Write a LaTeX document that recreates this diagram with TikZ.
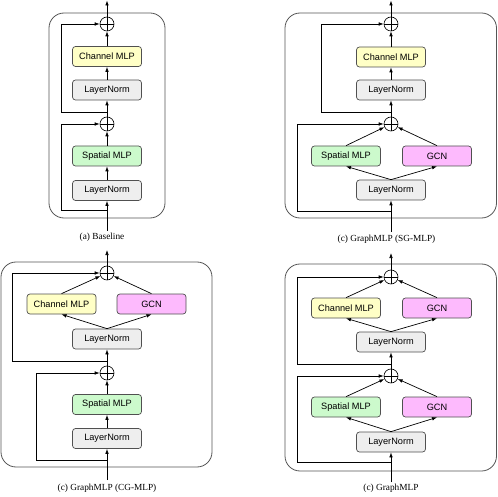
\documentclass[tikz,border=0pt]{standalone}
\usepackage{fontspec}
\setmainfont{Liberation Serif}
\setsansfont{Liberation Sans}
\usetikzlibrary{arrows.meta}
\definecolor{cmfill}{HTML}{FFFFC6}
\definecolor{smfill}{HTML}{CCFACC}
\definecolor{gcnfill}{HTML}{FDBAFD}
\definecolor{lnfill}{HTML}{EEEEEE}
\definecolor{boxline}{HTML}{505050}
\definecolor{frameline}{HTML}{555555}
\tikzset{
  blk/.style={draw=boxline, line width=0.7pt, rounded corners=3pt, minimum width=69pt, minimum height=20pt, inner sep=0pt, font=\sffamily\fontsize{9.2}{11}\selectfont},
  cmbox/.style={blk, fill=cmfill},
  smbox/.style={blk, fill=smfill},
  gcnbox/.style={blk, fill=gcnfill},
  lnbox/.style={blk, fill=lnfill},
  plusnode/.style={circle, draw=black, line width=0.6pt, minimum size=14pt, inner sep=0pt,
    path picture={\draw[line width=0.6pt] (path picture bounding box.north) -- (path picture bounding box.south) (path picture bounding box.west) -- (path picture bounding box.east);}},
  frm/.style={draw=frameline, line width=0.8pt, rounded corners=15pt},
  arr/.style={line width=0.7pt, -{Latex[length=5pt,width=3.6pt]}},
  captxt/.style={font=\fontsize{9.3}{11}\selectfont, inner sep=0pt}
}
\begin{document}
\begin{tikzpicture}[x=1pt,y=-1pt]
\useasboundingbox (0,0) rectangle (498,497);

% ---------- (a) Baseline ----------
\draw[frm] (49,13) rectangle (165,218);
\node[plusnode] (a-p1) at (107,24) {};
\node[cmbox] (a-cm) at (107,56.5) {Channel MLP};
\node[lnbox] (a-ln1) at (107,90) {LayerNorm};
\node[plusnode] (a-p2) at (107,124) {};
\node[smbox] (a-sm) at (107,156) {Spatial MLP};
\node[lnbox] (a-ln2) at (107,190.5) {LayerNorm};
\coordinate (a-top) at (107,0.5);
\coordinate (a-bot) at (107,231);
\coordinate (a-b1) at (107,112);
\coordinate (a-b2) at (107,210);
\draw[arr] (a-p1) -- (a-top);
\draw[arr] (a-cm) -- (a-p1);
\draw[arr] (a-ln1) -- (a-cm);
\draw[arr] (a-p2) -- (a-ln1);
\draw[arr] (a-sm) -- (a-p2);
\draw[arr] (a-ln2) -- (a-sm);
\draw[arr] (a-bot) -- (a-ln2);
\draw[arr] (a-b1) -- ++(-46,0) |- (a-p1);
\draw[arr] (a-b2) -- ++(-46,0) |- (a-p2);
\node[captxt] (a-cap) at (102,237) {(a) Baseline};

% ---------- (c) SG-MLP ----------
\draw[frm] (285,13) rectangle (496.5,218);
\node[plusnode] (b-p1) at (391,24) {};
\node[cmbox] (b-cm) at (391,57) {Channel MLP};
\node[lnbox] (b-ln1) at (391,90) {LayerNorm};
\node[plusnode] (b-p2) at (391,124) {};
\node[smbox] (b-sm) at (346,156) {Spatial MLP};
\node[gcnbox] (b-gcn) at (437,156) {GCN};
\node[lnbox] (b-ln2) at (391,190) {LayerNorm};
\coordinate (b-top) at (391,0.5);
\coordinate (b-bot) at (391,232);
\coordinate (b-b1) at (391,112);
\coordinate (b-b2) at (391,211);
\draw[arr] (b-p1) -- (b-top);
\draw[arr] (b-cm) -- (b-p1);
\draw[arr] (b-ln1) -- (b-cm);
\draw[arr] (b-p2) -- (b-ln1);
\draw[arr] (b-sm.north) -- (b-p2);
\draw[arr] (b-gcn.north) -- (b-p2);
\draw[arr] (b-ln2.north) -- (b-sm.south);
\draw[arr] (b-ln2.north) -- (b-gcn.south);
\draw[arr] (b-bot) -- (b-ln2);
\draw[arr] (b-b1) -- ++(-70,0) |- (b-p1);
\draw[arr] (b-b2) -- ++(-94,0) |- (b-p2);
\node[captxt] (b-cap) at (386.5,239) {(c) GraphMLP (SG-MLP)};

% ---------- (c) CG-MLP ----------
\draw[frm] (1,262) rectangle (212,467);
\node[plusnode] (c-p1) at (107,273) {};
\node[cmbox] (c-cm) at (61.5,304) {Channel MLP};
\node[gcnbox] (c-gcn) at (151.5,304) {GCN};
\node[lnbox] (c-ln1) at (107,339) {LayerNorm};
\node[plusnode] (c-p2) at (107,373) {};
\node[smbox] (c-sm) at (107,404.5) {Spatial MLP};
\node[lnbox] (c-ln2) at (107,438.5) {LayerNorm};
\coordinate (c-top) at (107,250);
\coordinate (c-bot) at (107,480);
\coordinate (c-b1) at (107,361);
\coordinate (c-b2) at (107,460);
\draw[arr] (c-p1) -- (c-top);
\draw[arr] (c-cm.north) -- (c-p1);
\draw[arr] (c-gcn.north) -- (c-p1);
\draw[arr] (c-ln1.north) -- (c-cm.south);
\draw[arr] (c-ln1.north) -- (c-gcn.south);
\draw[arr] (c-p2) -- (c-ln1);
\draw[arr] (c-sm) -- (c-p2);
\draw[arr] (c-ln2) -- (c-sm);
\draw[arr] (c-bot) -- (c-ln2);
\draw[arr] (c-b1) -- ++(-95,0) |- (c-p1);
\draw[arr] (c-b2) -- ++(-71,0) |- (c-p2);
\node[captxt] (c-cap) at (107,488) {(c) GraphMLP (CG-MLP)};

% ---------- (c) GraphMLP ----------
\draw[frm] (285,264) rectangle (496.5,471);
\node[plusnode] (d-p1) at (391,277) {};
\node[cmbox] (d-cm) at (346,308) {Channel MLP};
\node[gcnbox] (d-gcn1) at (437,308) {GCN};
\node[lnbox] (d-ln1) at (391,342) {LayerNorm};
\node[plusnode] (d-p2) at (391,376) {};
\node[smbox] (d-sm) at (346,407) {Spatial MLP};
\node[gcnbox] (d-gcn2) at (437,407) {GCN};
\node[lnbox] (d-ln2) at (391,442) {LayerNorm};
\coordinate (d-top) at (391,253);
\coordinate (d-bot) at (391,482);
\coordinate (d-b1) at (391,364);
\coordinate (d-b2) at (391,462);
\draw[arr] (d-p1) -- (d-top);
\draw[arr] (d-cm.north) -- (d-p1);
\draw[arr] (d-gcn1.north) -- (d-p1);
\draw[arr] (d-ln1.north) -- (d-cm.south);
\draw[arr] (d-ln1.north) -- (d-gcn1.south);
\draw[arr] (d-p2) -- (d-ln1);
\draw[arr] (d-sm.north) -- (d-p2);
\draw[arr] (d-gcn2.north) -- (d-p2);
\draw[arr] (d-ln2.north) -- (d-sm.south);
\draw[arr] (d-ln2.north) -- (d-gcn2.south);
\draw[arr] (d-bot) -- (d-ln2);
\draw[arr] (d-b1) -- ++(-94,0) |- (d-p1);
\draw[arr] (d-b2) -- ++(-94,0) |- (d-p2);
\node[captxt] (d-cap) at (391,488) {(c) GraphMLP};
\end{tikzpicture}
\end{document}
